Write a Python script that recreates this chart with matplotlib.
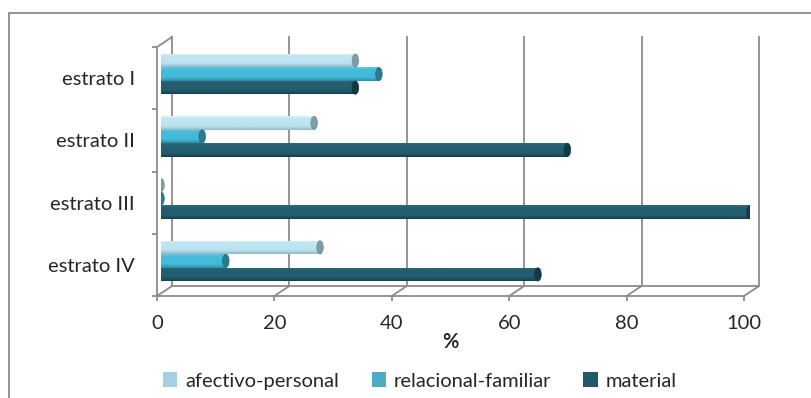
import numpy as np
import matplotlib
matplotlib.use("Agg")
import matplotlib.pyplot as plt
from matplotlib.patches import Rectangle, Ellipse, Patch
from matplotlib.lines import Line2D
from matplotlib.transforms import ScaledTranslation
from matplotlib.colors import to_rgb

plt.rcParams['font.family'] = ['Lato', 'DejaVu Sans']

# ---- data -------------------------------------------------------------
categories = ["estrato I", "estrato II", "estrato III", "estrato IV"]
series_names = ["afectivo-personal", "relacional-familiar", "material"]
afectivo_personal = [33, 26, 0, 27]
relacional_familiar = [37, 7, 0, 11]
material = [33, 69, 100, 64]
x_ticks = [0, 20, 40, 60, 80, 100]
x_label = "%"

# ---- style ------------------------------------------------------------
legend_colors = ["#A5D0E0", "#4BACC6", "#215968"]
# highlight, body, shadow shades of each cylinder, plus the end-cap colour
cyl_shades = [
    ("#DDF2F8", "#BDE5F1", "#8FB6C4", "#7D9CA8"),
    ("#63CBE5", "#44BBDA", "#2C8AA4", "#2A7A90"),
    ("#2E6C7D", "#235E6F", "#143F4B", "#15394A"),
]
grid_color = "#8C8C8C"
text_color = "#262626"
fs = 14.5

W, H, DPI = 812, 398, 100
fig = plt.figure(figsize=(W / DPI, H / DPI), dpi=DPI)
fig.patch.set_facecolor("white")


def frac_box(left, top, right, bottom):
    return [left / W, 1 - bottom / H, (right - left) / W, (bottom - top) / H]


# outer frame of the chart area
fig.add_artist(Rectangle((9 / W, -0.2), 1.2, 1.2 - 13 / H, transform=fig.transFigure,
                         fill=False, edgecolor="#808080", linewidth=1.2))

# front plane axes (axis lines, ticks, labels)
ax = fig.add_axes(frac_box(157, 47, 744, 296))
ax.set_xlim(0, 100)
ax.set_ylim(0, 4)
ax.patch.set_alpha(0)
for side in ("top", "right"):
    ax.spines[side].set_visible(False)
for side in ("left", "bottom"):
    ax.spines[side].set_color(grid_color)
    ax.spines[side].set_linewidth(1.3)

ax.set_xticks(x_ticks)
ax.set_xticklabels([str(t) for t in x_ticks])
ax.tick_params(axis="x", length=3.6, width=1.3, color=grid_color, pad=10,
               labelsize=fs, labelcolor=text_color)
n = len(categories)
ypos = [n - 0.5 - i for i in range(n)]
ax.set_yticks(ypos)
ax.set_yticklabels(categories)
ax.set_yticks(np.arange(0, n + 1), minor=True)
ax.tick_params(axis="y", which="major", length=0, pad=16, labelsize=fs,
               labelcolor=text_color)
ax.tick_params(axis="y", which="minor", length=3.6, width=1.3, color=grid_color)
ax.set_xlabel(x_label, fontsize=fs, fontweight="bold", color=text_color, labelpad=0)

# back wall: gridlines shifted by the depth offset
back = ax.transData + ScaledTranslation(15 / DPI, 10 / DPI, fig.dpi_scale_trans)
for t in x_ticks:
    ax.add_line(Line2D([t, t], [0, n], transform=back, color=grid_color,
                       linewidth=1.3, clip_on=False, zorder=0.5))
ax.add_line(Line2D([0, 100], [0, 0], transform=back, color=grid_color,
                   linewidth=1.3, clip_on=False, zorder=0.5))
# depth edges joining front and back planes
for (x0, y0) in [(t, 0) for t in x_ticks] + [(0, n)]:
    px, py = ax.transData.transform((x0, y0))
    ax.add_line(Line2D([px, px + 15], [py, py + 10], transform=None,
                       color=grid_color, linewidth=1.3, clip_on=False, zorder=0.5))

# bar plane sits between the front and back walls
axb = fig.add_axes(frac_box(161, 43, 750, 292))
axb.set_xlim(0, 100)
axb.set_ylim(0, 4)
axb.axis("off")

bar_h = 0.217
series = [afectivo_personal, relacional_familiar, material]
offsets = [bar_h, 0.0, -bar_h]
px_per_unit = (750 - 161) / 100.0
cap_w = 6.5 / px_per_unit


def cylinder_profile(hi, body, shadow, rows=48):
    """Vertical colour profile: thin highlight, flat body, dark lower rim."""
    s = np.linspace(0, 1, rows)
    prof = np.zeros((rows, 8, 3))
    for k, v in enumerate(s):
        if v < 0.2:
            c = hi + (body - hi) * (v / 0.2)
        elif v < 0.65:
            c = body
        else:
            t = (v - 0.65) / 0.35
            c = body + (shadow - body) * t ** 1.5
        prof[k, :] = c
    return prof


for vals, off, shades, name in zip(series, offsets, cyl_shades, series_names):
    hi, body, shadow, cap = [np.array(to_rgb(c)) for c in shades]
    prof = cylinder_profile(hi, body, shadow)
    bars = axb.barh([p + off for p in ypos], vals, height=bar_h, color=body,
                    edgecolor="none", label=name, zorder=2)
    for rect, v in zip(bars.patches, vals):
        x0, y0 = rect.get_x(), rect.get_y()
        w, h = rect.get_width(), rect.get_height()
        if w > 0:
            im = axb.imshow(prof, extent=[x0, x0 + w, y0, y0 + h], aspect="auto",
                            interpolation="bilinear", zorder=3, origin="upper")
            im.set_clip_path(rect)
        axb.add_patch(Ellipse((x0 + w, y0 + h / 2), cap_w, h * 0.98,
                              facecolor=cap, edgecolor=shadow * 0.8, linewidth=0.5,
                              zorder=4))
axb.set_xlim(0, 100)
axb.set_ylim(0, 4)

handles = [Patch(facecolor=c, edgecolor="none") for c in legend_colors]
fig.legend(handles, series_names, loc="center", bbox_to_anchor=(420 / W, 1 - 381 / H),
           ncol=3, frameon=False, fontsize=fs, handlelength=0.7, handleheight=0.7,
           handletextpad=0.4, columnspacing=1.6, labelcolor=text_color)

fig.savefig("out.png", dpi=DPI, facecolor="white")
